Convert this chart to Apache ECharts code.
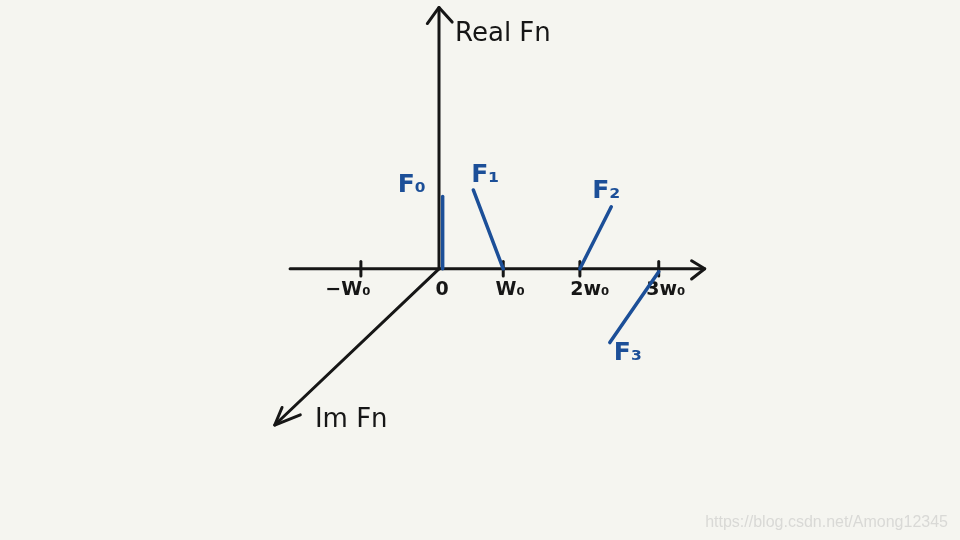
<!DOCTYPE html>
<html>
<head>
<meta charset="utf-8">
<script src="https://cdn.jsdelivr.net/npm/echarts@6/dist/echarts.min.js"></script>
<style>
  html, body { margin: 0; padding: 0; background: #f5f5f0; }
  #chart { width: 960px; height: 540px; }
</style>
</head>
<body>
<div id="chart"></div>
<script>
// ---- data (frequency in units of w0, real part up) ----
const tickLabels = ['\u2212W\u2080', '0', 'W\u2080', '2w\u2080', '3w\u2080'];
const tickPos = [-1.07, 0, 0.88, 1.93, 3.01];
const lineNames = ['F\u2080', 'F\u2081', 'F\u2082', 'F\u2083'];
const lineBase = [[0.05, 0], [0.88, 0], [1.93, 0], [3.01, -0.04]];
const lineTip = [[0.05, 0.99], [0.47, 1.08], [2.36, 0.85], [2.34, -1.01]];
const axisTitles = ['Real Fn', 'Im Fn'];

// ---- layout / style ----
const BLACK = '#161616';
const BLUE = '#1c4f98';
const FONT = 'DejaVu Sans';
const freqAxis = [[-2.04, 0], [3.64, 0]];
const freqArrow = [[3.46, 0.11], [3.64, 0], [3.46, -0.14]];
const realAxis = [[0, 0], [0, 3.58]];
const realArrow = [[-0.16, 3.36], [0, 3.58], [0.18, 3.38]];
const imAxis = [[0, 0], [-2.25, -2.14]];
const imArrow = [[-2.15, -1.90], [-2.25, -2.14], [-1.90, -2.0]];
const labelOffsets = [[-31, -11], [12, -14], [-5, -15], [18, 11]];
const tickLabelShift = [-13, 3, 7, 10, 7];
const titlePos = [[0.22, 3.21], [-1.70, -2.08]];

function seg(points, color, width) {
  return {
    type: 'line', data: points, symbol: 'none', silent: true, clip: false,
    lineStyle: { color: color, width: width, cap: 'round', join: 'round' },
    animation: false, z: color === BLUE ? 5 : 3
  };
}

const series = [];
series.push(seg(freqAxis, BLACK, 3));
series.push(seg(freqArrow, BLACK, 3));
series.push(seg(realAxis, BLACK, 3));
series.push(seg(realArrow, BLACK, 3));
series.push(seg(imAxis, BLACK, 3));
series.push(seg(imArrow, BLACK, 3));

// tick marks
tickPos.forEach(function (x, i) {
  if (i === 1) return;
  series.push(seg([[x, -0.1], [x, 0.1]], BLACK, 3));
});

// spectral lines
lineNames.forEach(function (n, i) {
  series.push(seg([lineBase[i], lineTip[i]], BLUE, 3.5));
});

function textSeries(data, label) {
  return {
    type: 'scatter', symbolSize: 0, animation: false, silent: true, clip: false,
    itemStyle: { opacity: 1 },
    data: data,
    label: Object.assign({ show: true, formatter: function (p) { return p.name; } }, label)
  };
}

// tick labels
series.push(textSeries(
  tickPos.map(function (x, i) {
    return { value: [x, 0], name: tickLabels[i], label: { offset: [tickLabelShift[i], 0] } };
  }),
  { position: 'bottom', distance: 12, color: BLACK, fontFamily: FONT, fontSize: 19, fontWeight: 'bold' }
));

// F labels
series.push(textSeries(
  lineNames.map(function (n, i) {
    return { value: lineTip[i], name: n, label: { offset: labelOffsets[i] } };
  }),
  { position: 'inside', color: BLUE, fontFamily: FONT, fontSize: 25, fontWeight: 'bold' }
));

// axis titles
series.push(textSeries(
  axisTitles.map(function (t, i) { return { value: titlePos[i], name: t }; }),
  { position: 'right', distance: 0, color: BLACK, fontFamily: FONT, fontSize: 26 }
));

const chart = echarts.init(document.getElementById('chart'), null, { renderer: 'canvas' });
chart.setOption({
  backgroundColor: '#f5f5f0',
  grid: { left: 220, right: 229, top: 6, bottom: 96 },
  xAxis: { type: 'value', min: -3, max: 4, show: false },
  yAxis: { type: 'value', min: -2.4, max: 3.6, show: false },
  graphic: [{
    type: 'text', right: 12, bottom: 9,
    style: {
      text: 'https://blog.csdn.net/Among12345',
      fill: '#d9d9d6', font: '16px "Liberation Sans"'
    }
  }],
  series: series
});
</script>
</body>
</html>
